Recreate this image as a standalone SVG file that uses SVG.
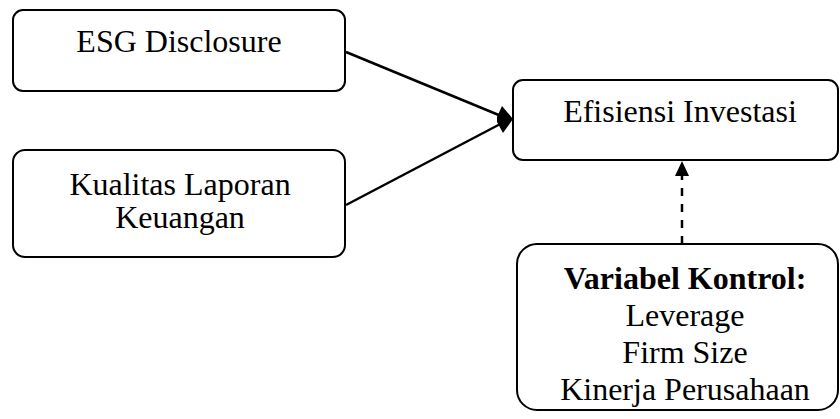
<svg xmlns="http://www.w3.org/2000/svg" width="840" height="419" viewBox="0 0 840 419">
<style>
.box{fill:#fff;stroke:#000;stroke-width:2}
.t{font-family:"Liberation Serif","Times New Roman",serif;font-size:32px;fill:#000;text-anchor:middle}
.b{font-weight:bold}
.ln{stroke:#000;stroke-width:2.5;fill:none}
</style>
<rect width="840" height="419" fill="#fff"/>
<g id="esg">
<rect class="box" x="13" y="10" width="332" height="81" rx="10"/>
<text class="t" x="179" y="52">ESG Disclosure</text>
</g>
<g id="kualitas">
<rect class="box" x="13" y="150" width="332" height="107" rx="12"/>
<text class="t" x="180" y="195">Kualitas Laporan</text>
<text class="t" x="180" y="228">Keuangan</text>
</g>
<g id="efisiensi">
<rect class="box" x="513" y="80" width="325" height="80" rx="10"/>
<text class="t" x="680" y="122">Efisiensi Investasi</text>
</g>
<g id="kontrol">
<rect class="box" x="517" y="244" width="321" height="166" rx="20"/>
<text class="t b" x="685" y="289">Variabel Kontrol:</text>
<text class="t" x="685" y="326">Leverage</text>
<text class="t" x="685" y="363">Firm Size</text>
<text class="t" x="685" y="400">Kinerja Perusahaan</text>
</g>
<g id="connectors">
<line class="ln" x1="346" y1="52" x2="506" y2="118"/>
<line class="ln" x1="346" y1="205" x2="506" y2="121"/>
<polygon points="513,119 502,106 497,117 497,122 503,133" fill="#000"/>
<line class="ln" x1="682" y1="244" x2="682" y2="174" stroke-dasharray="8,8"/>
<polygon points="682,161 675,176 689,176" fill="#000"/>
</g>
</svg>
